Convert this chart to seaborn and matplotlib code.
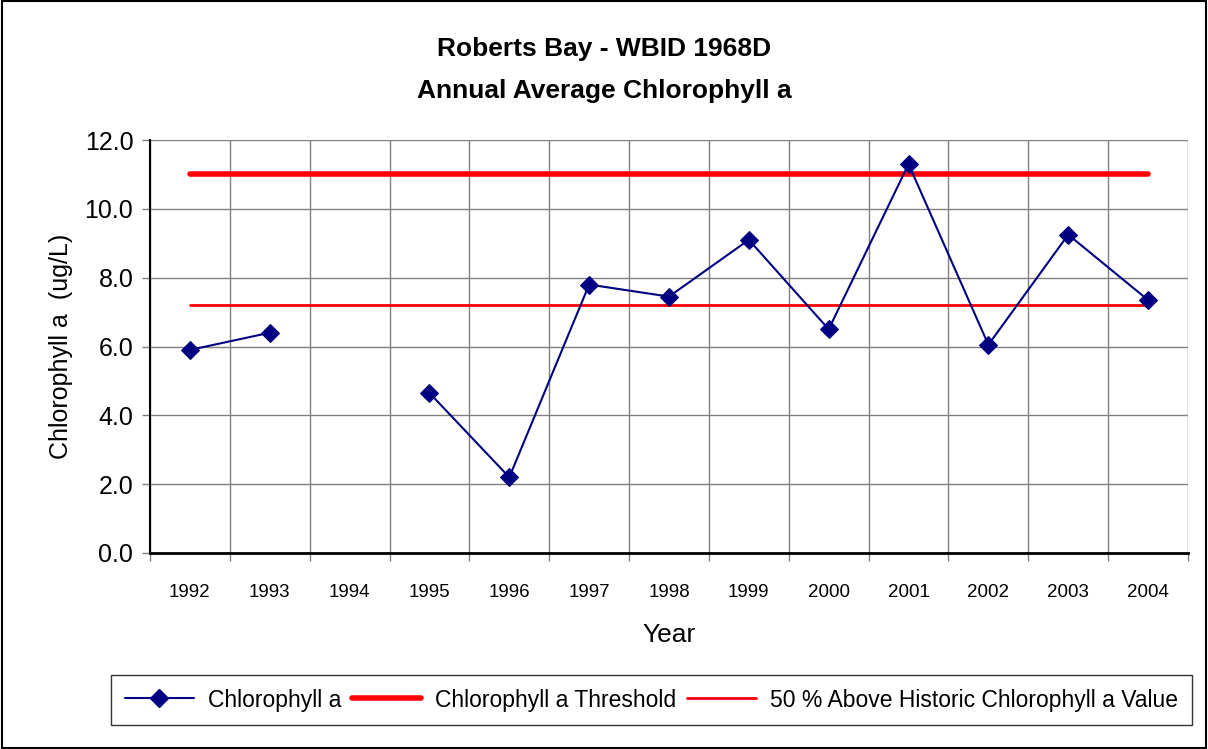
import numpy as np
import pandas as pd
import matplotlib
matplotlib.use("Agg")
import matplotlib.pyplot as plt
import seaborn as sns
from matplotlib.lines import Line2D

years = ["1992", "1993", "1994", "1995", "1996", "1997", "1998", "1999", "2000", "2001", "2002", "2003", "2004"]
chl = [5.9, 6.4, np.nan, 4.65, 2.2, 7.8, 7.45, 9.1, 6.5, 11.3, 6.05, 9.25, 7.35]
threshold = [11.0] * 13
historic50 = [7.2] * 13

sns.set_theme(style="white")
plt.rcParams['font.family'] = ['Liberation Sans', 'DejaVu Sans']
for k in ["text.color", "axes.labelcolor", "xtick.color", "ytick.color"]:
    plt.rcParams[k] = "black"

fig = plt.figure(figsize=(12.08, 7.49), dpi=100)
ax = fig.add_axes([150/1208, 1-553/749, (1188-150)/1208, (553-140)/749])

pos = np.arange(len(years))
df = pd.DataFrame({"x": pos, "y": chl})
df["seg"] = np.cumsum(df["y"].isna().astype(int))
df = df.dropna()

df_t = pd.DataFrame({"x": pos, "y": threshold})
df_h = pd.DataFrame({"x": pos, "y": historic50})

sns.lineplot(data=df_t, x="x", y="y", ax=ax, color="#ff0000", linewidth=4, zorder=3)
sns.lineplot(data=df_h, x="x", y="y", ax=ax, color="#ff0000", linewidth=2, zorder=3)
sns.lineplot(data=df, x="x", y="y", units="seg", estimator=None, ax=ax, color="#000080",
             linewidth=1.5, marker="D", markersize=9, markeredgecolor="#000080", zorder=4)

ax.set_xlim(-0.5, len(years) - 0.5)
ax.set_ylim(0, 12)
ax.set_yticks(np.arange(0, 12.1, 2))
ax.set_yticklabels([f"{v:.1f}" for v in np.arange(0, 12.1, 2)], fontsize=18)
ax.set_xticks(pos)
ax.set_xticklabels(years, fontsize=13.5)
ax.set_xticks(np.arange(-0.5, len(years), 1), minor=True)
ax.tick_params(axis="x", which="major", length=0, pad=22)
ax.tick_params(axis="x", which="minor", length=6, width=1, color="#808080", bottom=True)
ax.tick_params(axis="y", which="major", length=6, width=1, color="#808080", left=True, pad=6)
ax.grid(False)
ax.grid(True, axis="y", which="major", color="#808080", linewidth=1)
ax.grid(True, axis="x", which="minor", color="#808080", linewidth=1)
for s in ["top", "right"]:
    ax.spines[s].set_visible(False)
ax.spines["left"].set_color("black")
ax.spines["bottom"].set_color("black")
ax.spines["bottom"].set_linewidth(2)
ax.spines["left"].set_linewidth(1.5)

ax.set_xlabel("Year", fontsize=19, labelpad=16)
ax.set_ylabel("Chlorophyll a  (ug/L)", fontsize=18, labelpad=8)
fig.text(0.5, 1-70/749, "Roberts Bay - WBID 1968D\nAnnual Average Chlorophyll a", ha="center", va="center",
         fontsize=19, fontweight="bold", linespacing=1.9)

handles = [
    Line2D([], [], color="#000080", linewidth=1.5, marker="D", markersize=9),
    Line2D([], [], color="#ff0000", linewidth=4),
    Line2D([], [], color="#ff0000", linewidth=2),
]
labels = ["Chlorophyll a", "Chlorophyll a Threshold", "50 % Above Historic Chlorophyll a Value"]
leg = fig.legend(handles, labels, loc="center", bbox_to_anchor=((110+1193)/2/1208, 1-700/749), ncol=3,
                 fontsize=16.5, frameon=True, fancybox=False, edgecolor="black", handlelength=3,
                 columnspacing=0.5, handletextpad=0.6, borderpad=0.6)
leg.get_frame().set_linewidth(1)

fig.patches.append(plt.Rectangle((0.002, 0.002), 0.996, 0.996, transform=fig.transFigure,
                                 fill=False, edgecolor="black", linewidth=1.5))

fig.savefig("out.png", dpi=100)
